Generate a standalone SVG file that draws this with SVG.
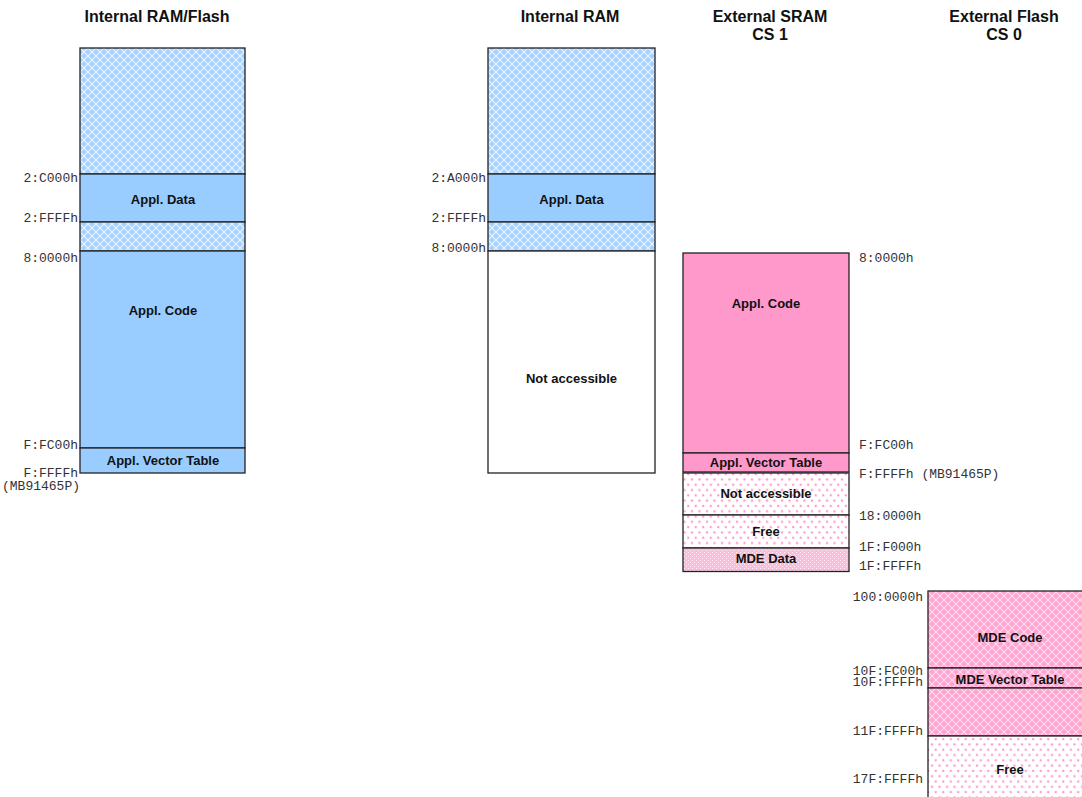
<svg xmlns="http://www.w3.org/2000/svg" width="1082" height="797" viewBox="0 0 1082 797">
<style>
.t{font-family:"Liberation Sans",Arial,sans-serif;font-weight:bold;font-size:16px;fill:#111;text-anchor:middle}
.l{font-family:"Liberation Sans",Arial,sans-serif;font-weight:bold;font-size:13px;fill:#111;text-anchor:middle}
.a{font-family:"Liberation Mono","Courier New",monospace;font-size:13px;fill:#333}
.e{text-anchor:end}
.b{stroke:#222;stroke-width:1.3}
.sb{fill:#99ccff}
.sp{fill:#ff99cc}
</style>
<defs>
<pattern id="hb" width="8" height="8" patternUnits="userSpaceOnUse">
<rect width="8" height="8" fill="#a6d2ff"/>
<path d="M0,0L8,8M8,0L0,8" stroke="#ffffff" stroke-width="1.2" stroke-opacity="0.75"/>
</pattern>
<pattern id="hp" width="8" height="8" patternUnits="userSpaceOnUse">
<rect width="8" height="8" fill="#ffa3d1"/>
<path d="M0,0L8,8M8,0L0,8" stroke="#ffffff" stroke-width="1.2" stroke-opacity="0.6"/>
</pattern>
<pattern id="fp" width="4" height="4" patternUnits="userSpaceOnUse">
<rect width="4" height="4" fill="#ffbadd"/>
<rect x="0" y="0" width="1" height="1" fill="#ffffff" fill-opacity="0.8"/>
<rect x="2" y="2" width="1" height="1" fill="#ffffff" fill-opacity="0.8"/>
</pattern>
<pattern id="dp" width="7.5" height="10.6" patternUnits="userSpaceOnUse">
<rect width="7.5" height="10.6" fill="#ffffff"/>
<circle cx="2" cy="2.5" r="1.2" fill="#ff99cc"/>
<circle cx="5.75" cy="7.8" r="1.2" fill="#ff99cc"/>
</pattern>
</defs>

<g id="titles">
<text class="t" x="157" y="22">Internal RAM/Flash</text>
<text class="t" x="570" y="22">Internal RAM</text>
<text class="t" x="770" y="22">External SRAM</text>
<text class="t" x="770" y="40">CS 1</text>
<text class="t" x="1004" y="22">External Flash</text>
<text class="t" x="1004" y="40">CS 0</text>
</g>

<g id="col1">
<rect class="b" x="80" y="48" width="165" height="126" fill="url(#hb)"/>
<rect class="b sb" x="80" y="174" width="165" height="48"/>
<rect class="b" x="80" y="222" width="165" height="29" fill="url(#hb)"/>
<rect class="b sb" x="80" y="251" width="165" height="197"/>
<rect class="b sb" x="80" y="448" width="165" height="25"/>
<text class="l" x="163" y="203.5">Appl. Data</text>
<text class="l" x="163" y="315">Appl. Code</text>
<text class="l" x="163" y="465">Appl. Vector Table</text>
<text class="a e" x="78" y="182">2:C000h</text>
<text class="a e" x="78" y="222">2:FFFFh</text>
<text class="a e" x="78" y="262">8:0000h</text>
<text class="a e" x="78" y="449">F:FC00h</text>
<text class="a e" x="78" y="477">F:FFFFh</text>
<text class="a" x="2" y="490">(MB91465P)</text>
</g>

<g id="col2">
<rect class="b" x="488" y="48" width="167" height="126" fill="url(#hb)"/>
<rect class="b sb" x="488" y="174" width="167" height="48"/>
<rect class="b" x="488" y="222" width="167" height="29" fill="url(#hb)"/>
<rect class="b" x="488" y="251" width="167" height="222" fill="#ffffff"/>
<text class="l" x="571.5" y="203.5">Appl. Data</text>
<text class="l" x="571.5" y="383">Not accessible</text>
<text class="a e" x="486" y="182">2:A000h</text>
<text class="a e" x="486" y="222">2:FFFFh</text>
<text class="a e" x="486" y="252">8:0000h</text>
</g>

<g id="col3">
<rect class="b sp" x="683" y="253" width="166" height="200"/>
<rect class="b sp" x="683" y="453" width="166" height="19"/>
<rect class="b" x="683" y="473" width="166" height="42" fill="url(#dp)"/>
<rect class="b" x="683" y="515" width="166" height="33" fill="url(#dp)"/>
<rect class="b" x="683" y="548" width="166" height="23.5" fill="url(#fp)"/>
<text class="l" x="766" y="307.5">Appl. Code</text>
<text class="l" x="766" y="466.5">Appl. Vector Table</text>
<text class="l" x="766" y="498">Not accessible</text>
<text class="l" x="766" y="536">Free</text>
<text class="l" x="766" y="563">MDE Data</text>
<text class="a" x="859" y="262">8:0000h</text>
<text class="a" x="859" y="449">F:FC00h</text>
<text class="a" x="859" y="478" xml:space="preserve">F:FFFFh (MB91465P)</text>
<text class="a" x="859" y="520">18:0000h</text>
<text class="a" x="859" y="551">1F:F000h</text>
<text class="a" x="859" y="569.5">1F:FFFFh</text>
</g>

<g id="col4">
<rect class="b" x="928" y="591" width="170" height="77" fill="url(#hp)"/>
<rect class="b" x="928" y="668" width="170" height="20" fill="url(#hp)"/>
<rect class="b" x="928" y="688" width="170" height="48" fill="url(#hp)"/>
<rect class="b" x="928" y="736" width="170" height="70" fill="url(#dp)"/>
<text class="l" x="1010" y="642">MDE Code</text>
<text class="l" x="1010" y="684">MDE Vector Table</text>
<text class="l" x="1010" y="773.5">Free</text>
<text class="a e" x="923" y="600.5">100:0000h</text>
<text class="a e" x="923" y="674.5">10F:FC00h</text>
<text class="a e" x="923" y="686">10F:FFFFh</text>
<text class="a e" x="923" y="735">11F:FFFFh</text>
<text class="a e" x="923" y="783">17F:FFFFh</text>
</g>
<g id="connectors"></g>
</svg>
